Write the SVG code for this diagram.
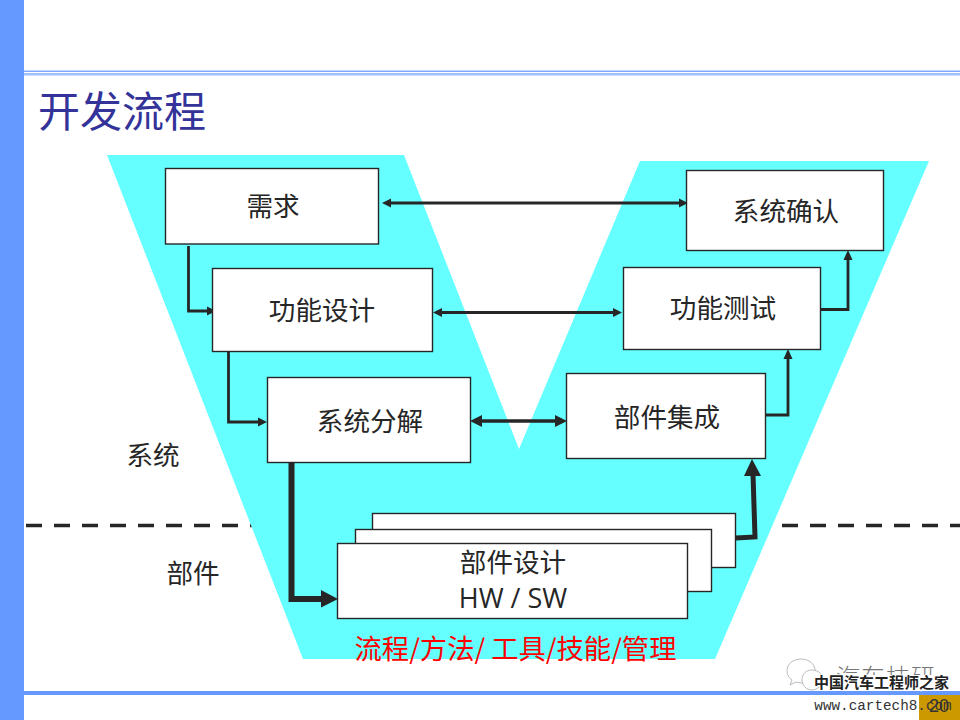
<svg xmlns="http://www.w3.org/2000/svg" width="960" height="720" viewBox="0 0 960 720">
<style>
.b{fill:#fff;stroke:#262626;stroke-width:1.4}
.t{font-family:"Noto Sans CJK SC","Liberation Sans",sans-serif;font-size:26.600px;fill:#262626;text-anchor:middle}
.c{fill:none;stroke:#262626;stroke-width:2.800}
.a{fill:#262626}
.w{fill:#fff;stroke:#aaa;stroke-width:.8}
</style>
<defs><clipPath id="wm"><rect x="830" y="655" width="110" height="20"/></clipPath></defs>
<rect width="960" height="720" fill="#fff"/>
<rect x="0" y="0" width="24" height="720" fill="#6699ff"/>
<rect x="24" y="70.500" width="936" height="1.500" fill="#80a8ff"/>
<rect x="24" y="73" width="936" height="2.500" fill="#a0c0ff"/>
<text x="38" y="127" font-family="Noto Sans CJK SC,sans-serif" font-size="42" fill="#333399">开发流程</text>
<path d="M26 525.500H262M782 525.500H960" stroke="#262626" stroke-width="3.500" stroke-dasharray="16 12" fill="none"/>
<path d="M107 155H404L519 449L640 161H929L715 659H303Z" fill="#66ffff"/>
<text class="t" x="153" y="465">系统</text>
<text class="t" x="193" y="583">部件</text>
<g id="connectors">
<path class="c" d="M188.500 246V311H208"/><path class="a" d="M216 311L207 306.500V315.500Z"/>
<path class="c" d="M228.500 351V422H258"/><path class="a" d="M267 422L258 417.500V426.500Z"/>
<path d="M291.500 462V599H325" fill="none" stroke="#262626" stroke-width="6"/><path class="a" d="M338 599L321 590V607.500Z"/>
<path class="c" d="M390 203H680"/><path class="a" d="M382 203L391 198.500V207.500ZM688 203L679 198.500V207.500Z"/>
<path class="c" d="M441 312.500H614"/><path class="a" d="M433 312.500L442 308V317ZM622 312.500L613 308V317Z"/>
<path d="M480 421H557" fill="none" stroke="#262626" stroke-width="3.500"/><path class="a" d="M470 421L482 415V427ZM567 421L555 415V427Z"/>
<path class="c" d="M766 415H788V358"/><path class="a" d="M788 349L783.500 359H792.500Z"/>
<path class="c" d="M821 309.500H848V259"/><path class="a" d="M848 250L843.500 260H852.500Z"/>
<path d="M736 538L755 537L753 474" fill="none" stroke="#262626" stroke-width="5"/><path class="a" d="M752 459L744 476H761Z"/>
</g>
<g id="n1"><rect class="b" x="165.500" y="168.500" width="213" height="75.500"/><text class="t" x="273" y="216">需求</text></g>
<g id="n2"><rect class="b" x="212.500" y="268.500" width="220" height="83"/><text class="t" x="322" y="320">功能设计</text></g>
<g id="n3"><rect class="b" x="267.500" y="377.500" width="203" height="85"/><text class="t" x="370" y="431">系统分解</text></g>
<g id="n4"><rect class="b" x="686.500" y="170.500" width="197" height="80"/><text class="t" x="786" y="221">系统确认</text></g>
<g id="n5"><rect class="b" x="623.500" y="267.500" width="197" height="82"/><text class="t" x="723" y="318">功能测试</text></g>
<g id="n6"><rect class="b" x="566.500" y="373.500" width="199" height="85"/><text class="t" x="667" y="427">部件集成</text></g>
<g id="n7">
<rect class="b" x="372.500" y="513.500" width="363" height="54"/>
<rect class="b" x="355.500" y="529.500" width="356" height="62"/>
<rect class="b" x="337.500" y="543.500" width="350" height="75"/>
<text class="t" x="513" y="572">部件设计</text>
<text class="t" x="513" y="608" style="font-family:'Open Sans','Liberation Sans',sans-serif;font-size:27px">HW / SW</text>
</g>
<text x="515.500" y="659" font-family="Noto Sans CJK SC,Liberation Sans,sans-serif" font-size="27.300" fill="#ff0000" text-anchor="middle">流程/方法/ 工具/技能/管理</text>
<g id="footer">
<path class="w" d="M801 659C793 659 787 664 787 670.500C787 675 789 678 792 680L790 685L796 682C798 682.500 800 683 802 683C810 683 815 677 815 670.500C815 664 809 659 801 659Z"/>
<path class="w" d="M812 670C806 670 802 674 802 679.500C802 685 806 690 812 690C817 690 823 685 823 679.500C823 674 818 670 812 670Z"/>
<text x="836" y="686" clip-path="url(#wm)" font-family="Noto Sans CJK SC,sans-serif" font-size="24" font-weight="300" fill="#777" letter-spacing="1">汽车技研</text>
<rect x="24" y="691" width="936" height="4" fill="#6699ff"/>
<rect x="919" y="695" width="41" height="25" fill="#cc9900"/>
<text x="881.500" y="688" font-family="Noto Sans CJK SC,sans-serif" font-size="15" font-weight="700" fill="#222" stroke="#fff" stroke-width="2" paint-order="stroke" text-anchor="middle">中国汽车工程师之家</text>
<text x="939" y="712" font-family="Liberation Sans,sans-serif" font-size="18" fill="#333" text-anchor="middle">20</text>
<text x="883" y="710" font-family="Liberation Mono,monospace" font-size="14.300" fill="#333" text-anchor="middle">www.cartech8.com</text>
</g>
</svg>
